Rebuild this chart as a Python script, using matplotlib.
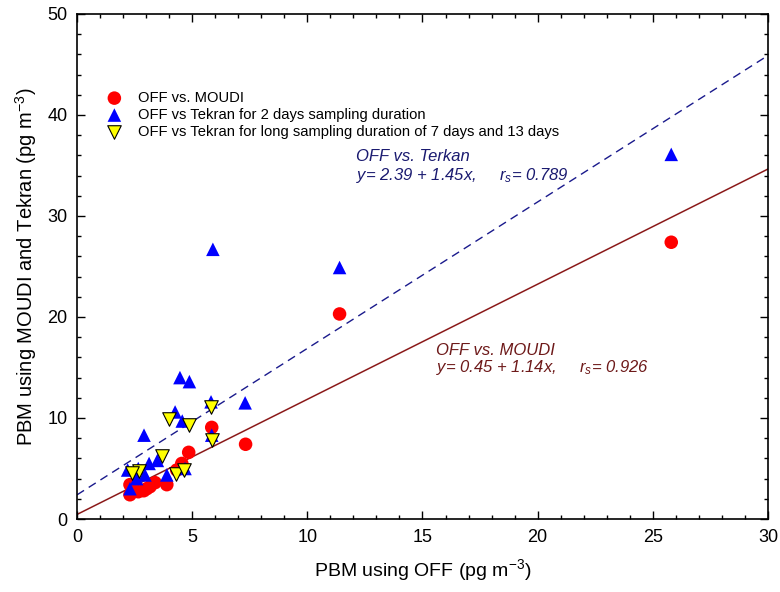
import matplotlib
matplotlib.use("Agg")
import matplotlib.pyplot as plt
import numpy as np
from matplotlib.ticker import MultipleLocator

plt.rcParams['font.family'] = ['Liberation Sans', 'DejaVu Sans']
plt.rcParams['mathtext.fontset'] = 'custom'
plt.rcParams['mathtext.rm'] = 'Liberation Sans'
plt.rcParams['mathtext.it'] = 'Liberation Sans:italic'

# OFF vs MOUDI
moudi_x = [25.8, 11.4, 7.32, 5.85, 4.85, 4.55, 4.33, 3.9, 3.39, 3.03, 3.17, 2.3, 2.3, 2.66, 2.9]
moudi_y = [27.4, 20.3, 7.4, 9.07, 6.6, 5.5, 4.85, 3.4, 3.6, 3.0, 3.2, 3.4, 2.4, 2.7, 2.8]

# OFF vs Tekran, 2 days
tek2_x = [25.8, 11.4, 5.9, 7.3, 4.47, 4.88, 2.91, 4.26, 4.57, 5.82, 5.85, 3.49, 3.13, 2.2, 2.66, 2.3, 2.59, 2.95, 3.9, 4.69]
tek2_y = [36.1, 24.9, 26.7, 11.5, 14.0, 13.6, 8.3, 10.6, 9.7, 11.6, 8.3, 5.8, 5.5, 4.85, 5.0, 3.0, 4.0, 4.36, 4.36, 5.0]

# OFF vs Tekran, long duration
tekl_x = [5.8, 5.85, 4.88, 4.0, 3.68, 2.69, 2.37, 4.3, 4.65]
tekl_y = [11.1, 7.8, 9.3, 9.9, 6.2, 4.75, 4.58, 4.42, 4.85]

# regression fits
fit_moudi = (0.45, 1.14)
fit_tekran = (2.39, 1.45)

fig = plt.figure(figsize=(7.8, 5.92), dpi=100)
ax = fig.add_axes([0.0987, 0.1233, 0.8859, 0.8531])

xx = np.array([0, 30])
ax.plot(xx, fit_tekran[0] + fit_tekran[1] * xx, ls=(0, (6, 4)), color='#1a1a8c', lw=1.0, zorder=1)
ax.plot(xx, fit_moudi[0] + fit_moudi[1] * xx, ls='-', color='#8b1a1a', lw=1.1, zorder=1)

ax.scatter(moudi_x, moudi_y, s=95, marker='o', color='#ff0000', edgecolors='none', zorder=2,
           label='OFF vs. MOUDI')
ax.scatter(tek2_x, tek2_y, s=95, marker='^', color='#0000ff', edgecolors='none', zorder=3,
           label='OFF vs Tekran for 2 days sampling duration')
ax.scatter(tekl_x, tekl_y, s=95, marker='v', color='#ffff00', edgecolors='black', linewidths=0.8,
           zorder=4, label='OFF vs Tekran for long sampling duration of 7 days and 13 days')

ax.set_xlim(0, 30)
ax.set_ylim(0, 50)
ax.xaxis.set_major_locator(MultipleLocator(5))
ax.xaxis.set_minor_locator(MultipleLocator(1))
ax.yaxis.set_major_locator(MultipleLocator(10))
ax.yaxis.set_minor_locator(MultipleLocator(2))
ax.tick_params(which='both', direction='in', top=True, right=True, labelsize=13, width=1.0)
ax.tick_params(which='major', length=6, pad=7)
ax.tick_params(which='minor', length=3)
for sp in ax.spines.values():
    sp.set_linewidth(1.2)

ax.set_xlabel('PBM using OFF (pg m$^{-3}$)', fontsize=14, labelpad=8)
ax.set_ylabel('PBM using MOUDI and Tekran (pg m$^{-3}$)', fontsize=14.5, labelpad=6)

leg = ax.legend(loc='upper left', bbox_to_anchor=(0.02, 0.865), frameon=False, fontsize=10.6,
                handletextpad=0.6, labelspacing=0.2, borderaxespad=0.2, scatterpoints=1)

ax.text(12.1, 35.9, 'OFF vs. Terkan', color='#1a1a70', fontsize=12, style='italic', va='center')
ax.text(12.1, 34.0, 'y= 2.39 + 1.45x,     $r_s$= 0.789', color='#1a1a70', fontsize=12,
        style='italic', va='center')
ax.text(15.6, 16.7, 'OFF vs. MOUDI', color='#6e1a1a', fontsize=12, style='italic', va='center')
ax.text(15.6, 15.0, 'y= 0.45 + 1.14x,     $r_s$= 0.926', color='#6e1a1a', fontsize=12,
        style='italic', va='center')

fig.savefig('out.png', dpi=100)
